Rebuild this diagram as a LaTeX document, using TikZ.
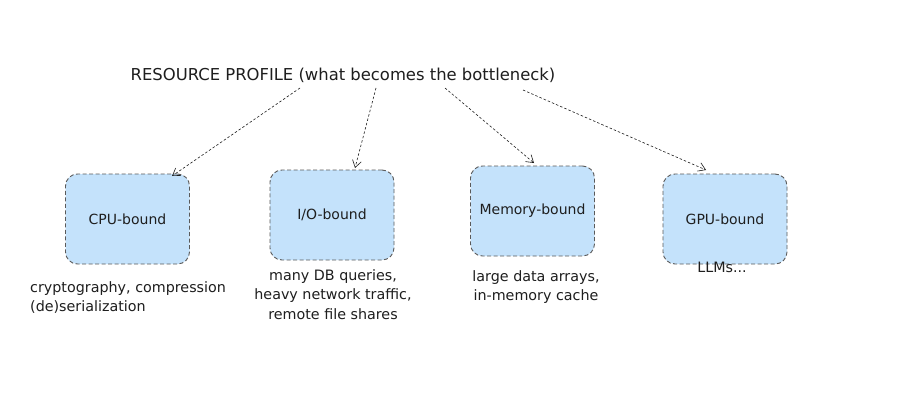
\documentclass[tikz,border=0pt]{standalone}
\usepackage{fontspec}
\setmainfont{DejaVu Sans}
\usetikzlibrary{arrows.meta}
\definecolor{boxfill}{HTML}{C4E2FB}
\definecolor{boxline}{HTML}{5A5A5A}
\definecolor{ink}{HTML}{1E1E1E}
\tikzset{
  card/.style={draw=boxline, dash pattern=on 4pt off 2.5pt, line width=0.9pt, fill=boxfill, rounded corners=12pt, minimum width=124pt, minimum height=90pt, inner sep=0pt, font=\fontsize{14}{16}\selectfont, text=ink},
  link/.style={draw=ink, dash pattern=on 2.5pt off 2pt, line width=0.6pt, -{Straight Barb[length=7pt,width=9pt]}},
  caption/.style={font=\fontsize{14.3}{19.5}\selectfont, text=ink, inner sep=0pt, align=center},
}
\begin{document}
\begin{tikzpicture}[x=1pt,y=-1pt]
\useasboundingbox[fill=white] (0,0) rectangle (917,404);
\node[caption, font=\fontsize{16.4}{19}\selectfont] (title) at (343,75) {RESOURCE PROFILE (what becomes the bottleneck)};
\node[card] (cpu) at (127.5,219) {CPU-bound};
\node[card] (io) at (332,215) {I/O-bound};
\node[card] (mem) at (532.5,211) {Memory-bound};
\node[card] (gpu) at (725,219) {GPU-bound};
\coordinate (t1) at (300,88);
\coordinate (t2) at (376,88);
\coordinate (t3) at (445,88);
\coordinate (t4) at (523,90);
\coordinate (h1) at (172,176);
\coordinate (h2) at (355,168);
\coordinate (h3) at (534,163);
\coordinate (h4) at (706,170);
\draw[link] (t1) -- (h1);
\draw[link] (t2) -- (h2);
\draw[link] (t3) -- (h3);
\draw[link] (t4) -- (h4);
\node[caption, align=left, anchor=north west] (cpuc) at (30,281) {cryptography, compression\\(de)serialization};
\node[caption, anchor=north] (ioc) at (333,269) {many DB queries,\\heavy network traffic,\\remote file shares};
\node[caption, anchor=north] (memc) at (536,270) {large data arrays,\\in-memory cache};
\node[caption, anchor=north] (gpuc) at (722,262) {LLMs...};
\end{tikzpicture}
\end{document}
